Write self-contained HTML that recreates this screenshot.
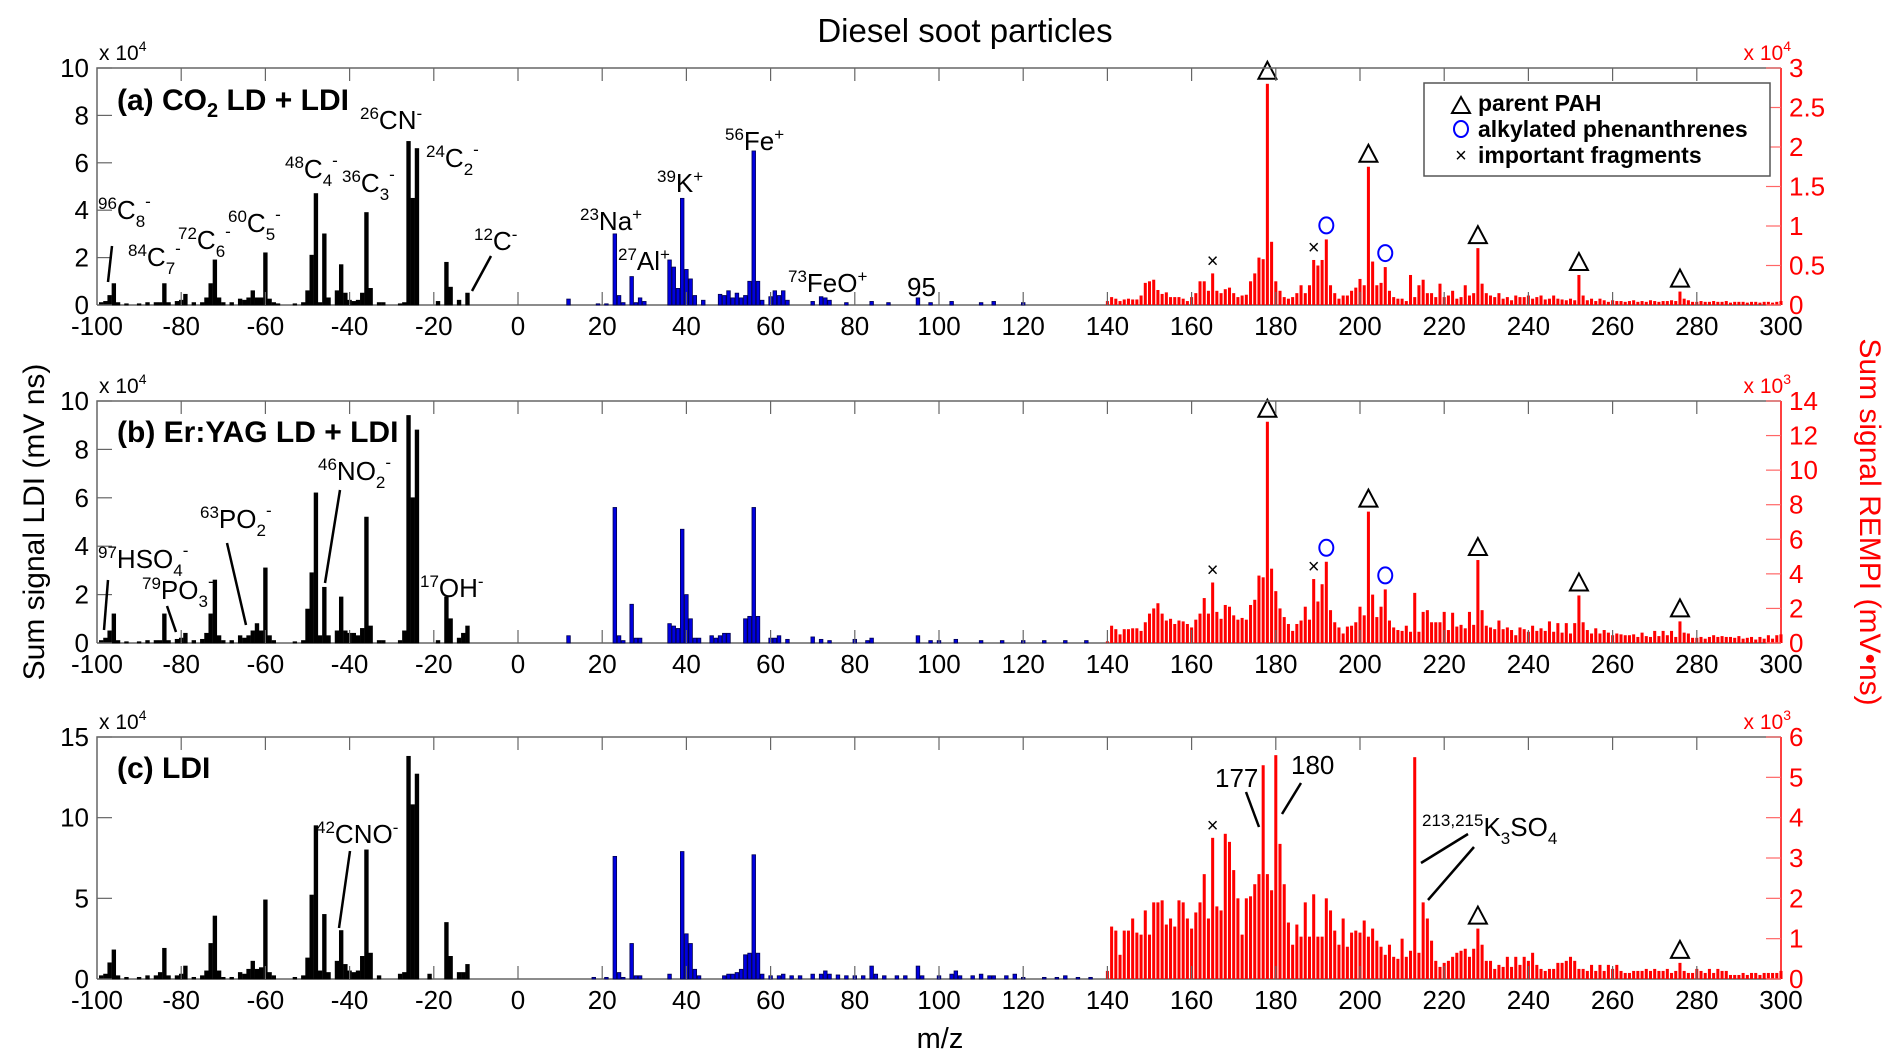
<!DOCTYPE html>
<html><head><meta charset="utf-8">
<style>
html,body{margin:0;padding:0;background:#fff;}
svg{display:block;font-family:"Liberation Sans",Arial,sans-serif;}
</style></head>
<body>
<svg id="chart" width="1892" height="1064" viewBox="0 0 1892 1064" xmlns="http://www.w3.org/2000/svg">
<text x="965" y="42" font-size="33" text-anchor="middle">Diesel soot particles</text>
<text transform="translate(44,522) rotate(-90)" font-size="30" text-anchor="middle">Sum signal LDI (mV  ns)</text>
<text transform="translate(1860,522) rotate(90)" font-size="30" text-anchor="middle" fill="#f00">Sum signal REMPI (mV•ns)</text>
<text x="940" y="1048" font-size="29" text-anchor="middle">m/z</text>
<g id="plots"></g>
<g id="annot" font-size="26">
  <text x="117" y="110" font-size="30" font-weight="bold">(a) CO<tspan font-size="20" dy="7">2</tspan><tspan dy="-7"> LD + LDI</tspan></text>
  <text x="98" y="219"><tspan font-size="17" dy="-10">96</tspan><tspan dy="10">C</tspan><tspan font-size="17" dy="8">8</tspan><tspan font-size="17" dy="-20">-</tspan></text>
  <line x1="112" y1="246" x2="108" y2="282" stroke="#000" stroke-width="2.5"/>
  <text x="128" y="266"><tspan font-size="17" dy="-10">84</tspan><tspan dy="10">C</tspan><tspan font-size="17" dy="8">7</tspan><tspan font-size="17" dy="-20">-</tspan></text>
  <text x="178" y="249"><tspan font-size="17" dy="-10">72</tspan><tspan dy="10">C</tspan><tspan font-size="17" dy="8">6</tspan><tspan font-size="17" dy="-20">-</tspan></text>
  <text x="228" y="232"><tspan font-size="17" dy="-10">60</tspan><tspan dy="10">C</tspan><tspan font-size="17" dy="8">5</tspan><tspan font-size="17" dy="-20">-</tspan></text>
  <text x="285" y="178"><tspan font-size="17" dy="-10">48</tspan><tspan dy="10">C</tspan><tspan font-size="17" dy="8">4</tspan><tspan font-size="17" dy="-20">-</tspan></text>
  <text x="342" y="192"><tspan font-size="17" dy="-10">36</tspan><tspan dy="10">C</tspan><tspan font-size="17" dy="8">3</tspan><tspan font-size="17" dy="-20">-</tspan></text>
  <text x="360" y="129"><tspan font-size="17" dy="-10">26</tspan><tspan dy="10">CN</tspan><tspan font-size="17" dy="-10">-</tspan></text>
  <text x="426" y="167"><tspan font-size="17" dy="-10">24</tspan><tspan dy="10">C</tspan><tspan font-size="17" dy="8">2</tspan><tspan font-size="17" dy="-20">-</tspan></text>
  <text x="474" y="250"><tspan font-size="17" dy="-10">12</tspan><tspan dy="10">C</tspan><tspan font-size="17" dy="-10">-</tspan></text>
  <line x1="491" y1="256" x2="472" y2="291" stroke="#000" stroke-width="2.5"/>
  <text x="580" y="230"><tspan font-size="17" dy="-10">23</tspan><tspan dy="10">Na</tspan><tspan font-size="17" dy="-10">+</tspan></text>
  <text x="618" y="270"><tspan font-size="17" dy="-10">27</tspan><tspan dy="10">Al</tspan><tspan font-size="17" dy="-10">+</tspan></text>
  <text x="657" y="192"><tspan font-size="17" dy="-10">39</tspan><tspan dy="10">K</tspan><tspan font-size="17" dy="-10">+</tspan></text>
  <text x="725" y="150"><tspan font-size="17" dy="-10">56</tspan><tspan dy="10">Fe</tspan><tspan font-size="17" dy="-10">+</tspan></text>
  <text x="788" y="292"><tspan font-size="17" dy="-10">73</tspan><tspan dy="10">FeO</tspan><tspan font-size="17" dy="-10">+</tspan></text>
  <text x="907" y="296">95</text>

  <text x="117" y="442" font-size="30" font-weight="bold">(b) Er:YAG LD + LDI</text>
  <text x="98" y="568"><tspan font-size="17" dy="-10">97</tspan><tspan dy="10">HSO</tspan><tspan font-size="17" dy="8">4</tspan><tspan font-size="17" dy="-20">-</tspan></text>
  <line x1="108" y1="580" x2="104" y2="630" stroke="#000" stroke-width="2.5"/>
  <text x="142" y="599"><tspan font-size="17" dy="-10">79</tspan><tspan dy="10">PO</tspan><tspan font-size="17" dy="8">3</tspan><tspan font-size="17" dy="-20">-</tspan></text>
  <line x1="167" y1="606" x2="176" y2="632" stroke="#000" stroke-width="2.5"/>
  <text x="200" y="528"><tspan font-size="17" dy="-10">63</tspan><tspan dy="10">PO</tspan><tspan font-size="17" dy="8">2</tspan><tspan font-size="17" dy="-20">-</tspan></text>
  <line x1="227" y1="543" x2="246" y2="625" stroke="#000" stroke-width="2.5"/>
  <text x="318" y="480"><tspan font-size="17" dy="-10">46</tspan><tspan dy="10">NO</tspan><tspan font-size="17" dy="8">2</tspan><tspan font-size="17" dy="-20">-</tspan></text>
  <line x1="340" y1="490" x2="325" y2="583" stroke="#000" stroke-width="2.5"/>
  <text x="420" y="597"><tspan font-size="17" dy="-10">17</tspan><tspan dy="10">OH</tspan><tspan font-size="17" dy="-10">-</tspan></text>

  <text x="117" y="778" font-size="30" font-weight="bold">(c) LDI</text>
  <text x="316" y="843"><tspan font-size="17" dy="-10">42</tspan><tspan dy="10">CNO</tspan><tspan font-size="17" dy="-10">-</tspan></text>
  <line x1="350" y1="851" x2="339" y2="928" stroke="#000" stroke-width="2.5"/>
  <text x="1215" y="787">177</text>
  <line x1="1246" y1="792" x2="1259" y2="827" stroke="#000" stroke-width="2.5"/>
  <text x="1291" y="774">180</text>
  <line x1="1301" y1="783" x2="1282" y2="814" stroke="#000" stroke-width="2.5"/>
  <text x="1422" y="836"><tspan font-size="17" dy="-10">213,215</tspan><tspan dy="10">K</tspan><tspan font-size="17" dy="8">3</tspan><tspan dy="-8">SO</tspan><tspan font-size="17" dy="8">4</tspan></text>
  <line x1="1468" y1="834" x2="1421" y2="863" stroke="#000" stroke-width="2.5"/>
  <line x1="1474" y1="847" x2="1428" y2="900" stroke="#000" stroke-width="2.5"/>

  <g>
    <rect x="1424" y="83" width="346" height="93" fill="#fff" stroke="#555" stroke-width="1.5"/>
    <polygon points="1452,113 1461,97 1470,113" fill="none" stroke="#000" stroke-width="2"/>
    <text x="1478" y="111" font-size="23" font-weight="bold">parent PAH</text>
    <ellipse cx="1461" cy="129" rx="7" ry="8" fill="none" stroke="#00f" stroke-width="2"/>
    <text x="1478" y="137" font-size="23" font-weight="bold">alkylated phenanthrenes</text>
    <text x="1461" y="162" font-size="20" text-anchor="middle">×</text>
    <text x="1478" y="163" font-size="23" font-weight="bold">important fragments</text>
  </g>
</g>
</svg>
<script>
// ---------- data ----------
const xTicks = [-100,-80,-60,-40,-20,0,20,40,60,80,100,120,140,160,180,200,220,240,260,280,300];
const leftTicksA = [0,2,4,6,8,10];
const rightTicksA = [0,0.5,1,1.5,2,2.5,3];
const leftTicksB = [0,2,4,6,8,10];
const rightTicksB = [0,2,4,6,8,10,12,14];
const leftTicksC = [0,5,10,15];
const rightTicksC = [0,1,2,3,4,5,6];

const negMzA  = [-99,-98,-97,-96,-95,-93,-90,-88,-86,-85,-84,-83,-81,-80,-79,-77,-75,-74,-73,-72,-71,-70,-68,-66,-65,-64,-63,-62,-61,-60,-59,-58,-57,-53,-51,-50,-49,-48,-47,-46,-45,-43,-42,-41,-40,-39,-38,-37,-36,-35,-33,-32,-28,-27,-26,-25,-24,-19,-17,-16,-14,-12];
const negValA = [0.1,0.15,0.4,0.9,0.1,0.05,0.05,0.1,0.1,0.1,0.9,0.1,0.15,0.2,0.45,0.1,0.1,0.3,0.9,1.9,0.3,0.1,0.1,0.25,0.2,0.3,0.6,0.3,0.3,2.2,0.25,0.1,0.05,0.05,0.1,0.6,2.1,4.7,0.1,3.0,0.3,0.6,1.7,0.5,0.2,0.15,0.2,0.5,3.9,0.7,0.1,0.1,0.05,0.1,6.9,4.5,6.6,0.15,1.8,0.75,0.2,0.5];
const posMzA  = [12,19,21,23,24,25,27,28,29,30,36,37,38,39,40,41,42,44,48,49,50,51,52,53,54,55,56,57,58,60,61,62,63,64,70,72,73,74,78,84,88,95,98,103,110,113,120];
const posValA = [0.25,0.05,0.05,3.0,0.4,0.1,1.2,0.1,0.3,0.15,1.9,1.6,0.7,4.5,1.5,1.1,0.4,0.2,0.45,0.4,0.6,0.3,0.5,0.3,0.4,1.0,6.5,1.0,0.2,0.35,0.6,0.4,0.6,0.2,0.15,0.35,0.3,0.2,0.1,0.15,0.1,0.3,0.1,0.15,0.1,0.15,0.1];
const redValA = [0.05,0.1,0.08,0.05,0.07,0.08,0.07,0.07,0.12,0.28,0.3,0.32,0.19,0.14,0.16,0.1,0.1,0.1,0.08,0.05,
 0.1,0.15,0.3,0.3,0.18,0.4,0.18,0.15,0.2,0.22,0.15,0.1,0.12,0.13,0.3,0.4,0.6,0.58,2.8,0.8,
 0.3,0.18,0.1,0.08,0.1,0.15,0.25,0.15,0.25,0.57,0.5,0.57,0.83,0.25,0.15,0.08,0.12,0.12,0.18,0.22,
 0.33,0.25,1.75,0.55,0.25,0.28,0.48,0.18,0.1,0.08,0.08,0.05,0.38,0.1,0.25,0.32,0.15,0.15,0.1,0.27,
 0.1,0.12,0.18,0.08,0.1,0.25,0.12,0.15,0.72,0.27,0.15,0.12,0.1,0.15,0.08,0.1,0.06,0.12,0.1,0.1,
 0.12,0.08,0.1,0.12,0.07,0.08,0.12,0.08,0.07,0.06,0.08,0.06,0.38,0.12,0.06,0.08,0.05,0.08,0.06,0.04,
 0.06,0.05,0.05,0.04,0.05,0.06,0.04,0.05,0.04,0.06,0.05,0.04,0.05,0.05,0.06,0.05,0.17,0.08,0.06,0.04,
 0.04,0.05,0.04,0.04,0.05,0.04,0.04,0.05,0.03,0.04,0.04,0.04,0.03,0.04,0.04,0.03,0.04,0.04,0.03,0.04,0.05];

const negMzB  = [-99,-98,-97,-96,-95,-93,-90,-88,-86,-85,-84,-83,-81,-80,-79,-77,-75,-74,-73,-72,-71,-70,-68,-66,-65,-64,-63,-62,-61,-60,-59,-58,-53,-51,-50,-49,-48,-47,-46,-45,-43,-42,-41,-40,-39,-38,-37,-36,-35,-33,-32,-28,-27,-26,-25,-24,-19,-17,-16,-14,-13,-12];
const negValB = [0.1,0.2,0.5,1.2,0.1,0.05,0.05,0.1,0.1,0.1,1.2,0.1,0.15,0.2,0.4,0.1,0.15,0.4,1.2,2.6,0.3,0.1,0.1,0.3,0.2,0.3,0.5,0.8,0.5,3.1,0.3,0.1,0.05,0.1,1.4,2.9,6.2,0.3,2.3,0.3,0.5,1.9,0.5,0.4,0.4,0.3,0.6,5.2,0.7,0.1,0.1,0.1,0.5,9.4,6.0,8.8,0.1,1.9,1.0,0.2,0.4,0.7];
const posMzB  = [12,23,24,25,27,28,29,36,37,38,39,40,41,42,43,46,47,48,49,50,54,55,56,57,60,61,62,64,70,72,74,80,83,84,95,98,100,104,110,115,120,125,130,135];
const posValB = [0.3,5.6,0.3,0.1,1.6,0.2,0.2,0.8,0.7,0.6,4.7,2.0,1.0,0.2,0.2,0.3,0.2,0.3,0.4,0.4,1.0,1.1,5.6,1.1,0.2,0.2,0.3,0.15,0.25,0.15,0.1,0.15,0.1,0.2,0.3,0.1,0.1,0.15,0.1,0.1,0.1,0.1,0.1,0.1];
const redValB = [0.1,1.0,0.8,0.5,0.8,0.8,0.85,0.85,0.7,1.2,1.7,2.0,2.3,1.7,1.3,1.4,1.1,1.3,1.25,1.1,
 0.9,1.35,1.7,2.6,1.7,3.5,1.8,1.4,2.2,2.1,1.6,1.35,1.45,1.35,2.2,2.5,3.9,3.8,12.8,4.3,
 3.0,2.0,1.5,1.1,0.7,1.1,1.3,2.1,1.35,3.7,2.4,3.4,4.7,1.9,1.2,0.9,0.55,0.95,1.0,1.2,
 2.1,1.6,7.6,2.8,1.5,2.1,3.1,1.3,0.9,0.75,0.7,1.0,0.65,2.9,0.65,1.8,1.9,1.2,1.2,1.2,
 1.8,0.75,1.75,0.95,1.05,0.85,1.8,1.05,4.8,1.9,1.0,0.9,0.8,1.3,0.8,0.9,0.75,0.45,0.9,0.8,
 0.65,1.0,0.7,0.85,0.7,1.25,0.65,1.15,0.6,1.15,0.55,1.15,2.75,1.2,0.75,0.55,0.85,0.55,0.75,0.6,
 0.45,0.55,0.5,0.45,0.45,0.5,0.35,0.6,0.4,0.35,0.7,0.4,0.7,0.45,0.7,0.35,1.25,0.6,0.55,0.3,
 0.3,0.35,0.25,0.35,0.45,0.35,0.4,0.35,0.35,0.3,0.4,0.25,0.3,0.35,0.2,0.35,0.25,0.45,0.25,0.45,0.5];

const negMzC  = [-99,-98,-97,-96,-95,-93,-90,-88,-86,-85,-84,-83,-81,-80,-79,-77,-75,-74,-73,-72,-71,-70,-68,-66,-65,-64,-63,-62,-61,-60,-59,-58,-53,-51,-50,-49,-48,-47,-46,-45,-43,-42,-41,-40,-39,-38,-37,-36,-35,-33,-28,-27,-26,-25,-24,-21,-17,-16,-14,-13,-12];
const negValC = [0.2,0.3,1.0,1.8,0.2,0.1,0.1,0.2,0.2,0.4,1.9,0.2,0.2,0.3,0.8,0.1,0.2,0.5,2.2,3.9,0.5,0.1,0.1,0.4,0.3,0.6,1.1,0.6,0.7,4.9,0.4,0.2,0.1,0.2,1.3,5.2,9.5,0.5,4.0,0.4,1.1,3.0,0.9,0.5,0.4,0.5,1.4,8.0,1.6,0.2,0.3,0.4,13.8,10.8,12.7,0.3,3.5,1.4,0.4,0.4,0.9];
const posMzC  = [18,21,23,24,25,27,28,29,36,39,40,41,42,43,49,50,51,52,53,54,55,56,57,58,60,62,63,65,67,70,72,73,74,76,78,80,82,84,85,87,90,92,95,96,100,103,104,105,108,110,112,113,116,118,120,125,128,130,133,136];
const posValC = [0.1,0.1,7.6,0.4,0.1,2.2,0.2,0.2,0.3,7.9,2.8,2.2,0.6,0.2,0.2,0.3,0.3,0.4,0.6,1.5,1.6,7.7,1.6,0.3,0.2,0.2,0.3,0.2,0.2,0.3,0.3,0.5,0.3,0.25,0.2,0.2,0.2,0.8,0.3,0.2,0.2,0.2,0.8,0.2,0.2,0.3,0.5,0.2,0.2,0.3,0.2,0.2,0.2,0.3,0.1,0.1,0.1,0.2,0.1,0.1];
const redValC = [0.2,1.3,1.2,0.6,1.2,1.2,1.5,1.15,1.1,1.7,1.1,1.9,1.9,1.95,1.35,1.5,1.3,1.95,1.9,1.5,
 1.25,1.65,1.9,2.6,1.5,3.5,1.8,1.7,3.6,3.4,2.7,2.0,1.1,2.0,2.05,2.35,2.6,5.3,2.6,2.2,
 5.55,3.35,2.35,1.4,0.85,1.35,1.05,1.9,1.05,2.1,1.05,1.05,2.0,1.7,1.2,0.85,1.5,0.8,1.15,1.2,
 1.15,1.45,1.05,1.25,0.95,0.8,0.6,0.85,0.55,0.5,1.0,0.55,0.7,5.5,0.65,1.9,1.5,0.95,0.45,0.3,
 0.4,0.45,0.55,0.65,0.7,0.75,0.55,0.75,1.25,0.85,0.45,0.45,0.25,0.35,0.3,0.55,0.3,0.55,0.35,0.55,
 0.45,0.65,0.35,0.25,0.2,0.25,0.25,0.4,0.4,0.45,0.55,0.45,0.25,0.25,0.2,0.35,0.2,0.35,0.2,0.35,
 0.25,0.35,0.2,0.15,0.15,0.2,0.2,0.2,0.25,0.2,0.25,0.2,0.2,0.25,0.15,0.2,0.4,0.2,0.15,0.15,
 0.25,0.2,0.15,0.25,0.15,0.25,0.2,0.2,0.1,0.1,0.1,0.15,0.1,0.15,0.15,0.1,0.15,0.15,0.15,0.15,0.2];

const triMzA = [178,202,228,252,276];
const circMzA = [192,206];
const crossMzA = [165,189];
const triMzB = [178,202,228,252,276];
const circMzB = [192,206];
const crossMzB = [165,189];
const triMzC = [228,276];
const crossMzC = [165];
const redStart = 140;

// ---------- drawing ----------
const NS = 'http://www.w3.org/2000/svg';
const root = document.getElementById('plots');
const X0 = 97, X1 = 1781, XMIN = -100, XMAX = 300;
function xs(m){ return X0 + (m - XMIN) / (XMAX - XMIN) * (X1 - X0); }
const unit = (X1 - X0) / (XMAX - XMIN);
function mk(tag, attrs, parent){
  const e = document.createElementNS(NS, tag);
  for (const k in attrs) e.setAttribute(k, attrs[k]);
  (parent || root).appendChild(e);
  return e;
}

const panels = [
 {id:'a', top:68, bottom:305, lMax:10, rMax:3, lTicks:leftTicksA, rTicks:rightTicksA, lExp:'4', rExp:'4',
  negMz:negMzA, negVal:negValA, posMz:posMzA, posVal:posValA, red:redValA, tri:triMzA, circ:circMzA, cross:crossMzA},
 {id:'b', top:401, bottom:643, lMax:10, rMax:14, lTicks:leftTicksB, rTicks:rightTicksB, lExp:'4', rExp:'3',
  negMz:negMzB, negVal:negValB, posMz:posMzB, posVal:posValB, red:redValB, tri:triMzB, circ:circMzB, cross:crossMzB},
 {id:'c', top:737, bottom:979, lMax:15, rMax:6, lTicks:leftTicksC, rTicks:rightTicksC, lExp:'4', rExp:'3',
  negMz:negMzC, negVal:negValC, posMz:posMzC, posVal:posValC, red:redValC, tri:triMzC, circ:[], cross:crossMzC}
];

panels.forEach(p => {
  const g = mk('g', {});
  
  
  const H = p.bottom - p.top;
  const yl = v => p.bottom - v / p.lMax * H;
  const yr = v => p.bottom - v / p.rMax * H;

  const base = mk('line', {x1:X0, y1:p.bottom, x2:X1, y2:p.bottom, stroke:'#666', 'stroke-width':1.5}, g);
  
  

  p.negMz.forEach((m, i) => {
    const w = unit * 0.85, y = yl(p.negVal[i]);
    const r = mk('rect', {x:xs(m) - w/2, y:y, width:w, height:p.bottom - y, fill:'#000', stroke:'#000', 'stroke-width':0.8}, g);
    
    
  });
  p.posMz.forEach((m, i) => {
    const w = unit * 0.85, y = yl(p.posVal[i]);
    const r = mk('rect', {x:xs(m) - w/2, y:y, width:w, height:p.bottom - y, fill:'#0000e0', stroke:'#000050', 'stroke-width':0.8}, g);
    
    
  });
  p.red.forEach((v, i) => {
    const m = redStart + i, w = unit * 0.72, y = yr(v);
    const r = mk('rect', {x:xs(m) - w/2, y:y, width:w, height:p.bottom - y, fill:'#ff0000'}, g);
    
    
  });
  p.tri.forEach(m => {
    const y = yr(p.red[m - redStart]) - 5, cx = xs(m);
    const t = mk('polygon', {points:`${cx-9},${y} ${cx},${y-17} ${cx+9},${y}`, fill:'none', stroke:'#000', 'stroke-width':2}, g);
    
    
  });
  p.circ.forEach(m => {
    const y = yr(p.red[m - redStart]) - 14, cx = xs(m);
    const c = mk('ellipse', {cx:cx, cy:y, rx:7, ry:8, fill:'none', stroke:'#00f', 'stroke-width':2}, g);
    
    
  });
  p.cross.forEach(m => {
    const y = yr(p.red[m - redStart]) - 6, cx = xs(m);
    const t = mk('text', {x:cx, y:y, 'font-size':20, 'text-anchor':'middle'}, g);
    t.textContent = '×';
    
    
  });

  const fr = mk('path', {d:`M${X0},${p.bottom} L${X0},${p.top} L${X1},${p.top}`, fill:'none', stroke:'#666', 'stroke-width':1.5}, g);
  
  
  const ra = mk('line', {x1:X1, y1:p.top, x2:X1, y2:p.bottom, stroke:'#f00', 'stroke-width':1.5}, g);
  
  

  xTicks.forEach(t => {
    const x = xs(t);
    if (t > XMIN && t < XMAX) {
      mk('line', {x1:x, y1:p.top, x2:x, y2:p.top + 13, stroke:'#666', 'stroke-width':1.2}, g);
      mk('line', {x1:x, y1:p.bottom, x2:x, y2:p.bottom - 13, stroke:'#666', 'stroke-width':1.2}, g);
    }
    const lb = mk('text', {x:x, y:p.bottom + 30, 'font-size':26, 'text-anchor':'middle'}, g);
    lb.textContent = String(t);
    
    
  });
  p.lTicks.forEach(t => {
    const y = yl(t);
    mk('line', {x1:X0, y1:y, x2:X0 + 15, y2:y, stroke:'#666', 'stroke-width':1.2}, g);
    const lb = mk('text', {x:X0 - 8, y:y + 9, 'font-size':26, 'text-anchor':'end'}, g);
    lb.textContent = String(t);
    
    
  });
  p.rTicks.forEach(t => {
    const y = yr(t);
    mk('line', {x1:X1, y1:y, x2:X1 - 15, y2:y, stroke:'#f66', 'stroke-width':1.2}, g);
    const lb = mk('text', {x:X1 + 8, y:y + 9, 'font-size':26, fill:'#f00'}, g);
    lb.textContent = String(t);
    
    
  });
  const el = mk('text', {x:X0 + 2, y:p.top - 8, 'font-size':21}, g);
  el.innerHTML = 'x 10<tspan font-size="14" dy="-9">' + p.lExp + '</tspan>';
  
  
  const er = mk('text', {x:X1 + 10, y:p.top - 8, 'font-size':21, fill:'#f00', 'text-anchor':'end'}, g);
  er.innerHTML = 'x 10<tspan font-size="14" dy="-9">' + p.rExp + '</tspan>';
  
  
});
</script>
</body></html>
